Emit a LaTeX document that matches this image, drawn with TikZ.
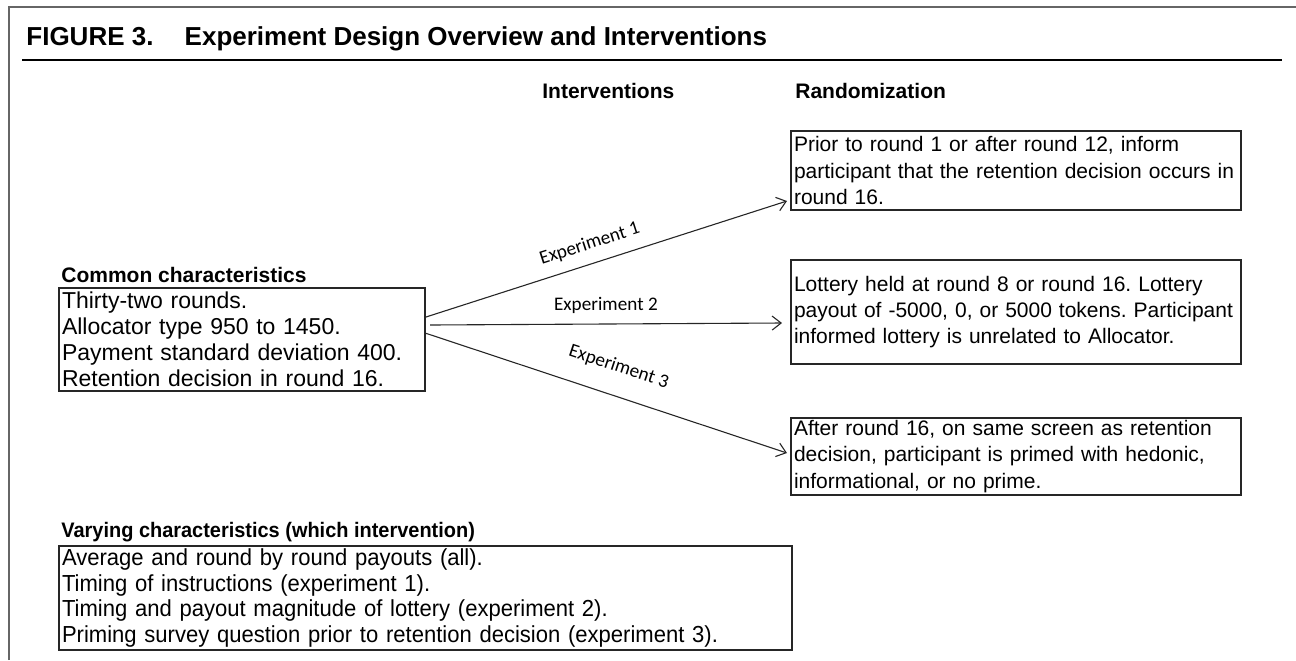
\documentclass[tikz,border=0pt]{standalone}
\usepackage{fontspec}
\setmainfont{Liberation Sans}
\newfontfamily\labelfont{Carlito}
\newfontfamily\narrowfont[FakeStretch=0.95]{Liberation Sans}
\usetikzlibrary{arrows.meta}
\frenchspacing

\begin{document}
\begin{tikzpicture}[x=0.5pt, y=-0.5pt,
        box/.style={draw=black!85, line width=1pt, inner xsep=1.5pt, inner ysep=0pt,
            align=left, anchor=north west, font=\fontsize{10.5}{13.2}\selectfont},
        head/.style={font=\bfseries\fontsize{10.5}{13}\selectfont, inner sep=0pt, anchor=base west},
        arr/.style={draw=black!85, line width=0.55pt, -{Straight Barb[length=4.5pt,width=7pt]}},
        exp/.style={font=\labelfont\fontsize{9.6}{11}\selectfont, inner sep=0pt, sloped}]
        \useasboundingbox (0,0) rectangle (1296,660);

        % Frame and title
        \draw[black!60, line width=1pt] (9,660) -- (9,7) -- (1296,7);
        \node[anchor=base west, inner sep=0pt, font=\bfseries\fontsize{13}{15}\selectfont] (title) at (26,45)
            {FIGURE 3.\hspace{1.2em}Experiment Design Overview and Interventions};
        \draw[line width=1pt] (22,60) -- (1282,60);

        % Column headings
        \node[head] (intv) at (542,98) {Interventions};
        \node[head] (rand) at (795,98) {Randomization};

        % Common characteristics
        \node[head] (commonlbl) at (61,282) {Common characteristics};
        \node[box, font=\fontsize{11.5}{13}\selectfont, minimum width=183pt, minimum height=51.5pt,
            text width=180pt] (common) at (58,287)
            {Thirty-two rounds.\\ Allocator type 950 to 1450.\\ Payment standard deviation 400.\\ Retention decision in round 16.};

        % Randomization boxes
        \node[box, minimum width=225pt, minimum height=39.5pt, text width=222pt] (rand1) at (790,130)
            {Prior to round 1 or after round 12, inform\\ participant that the retention decision occurs in\\ round 16.};
        \node[box, minimum width=225pt, minimum height=52pt, text width=222pt] (rand2) at (790,259)
            {Lottery held at round 8 or round 16. Lottery\\ payout of -5000, 0, or 5000 tokens. Participant\\ informed lottery is unrelated to Allocator.};
        \node[box, minimum width=225pt, minimum height=38.5pt, text width=222pt] (rand3) at (790,417)
            {After round 16, on same screen as retention\\ decision, participant is primed with hedonic,\\ informational, or no prime.};

        % Varying characteristics
        \node[head] (varylbl) at (61,537) {\narrowfont\bfseries Varying characteristics (which intervention)};
        \node[box, font=\narrowfont\fontsize{11.6}{12.85}\selectfont, minimum width=366.5pt, minimum height=52pt,
            text width=363.5pt] (vary) at (58,545)
            {Average and round by round payouts (all).\\ Timing of instructions (experiment 1).\\
             Timing and payout magnitude of lottery (experiment 2).\\ Priming survey question prior to retention decision (experiment 3).};

        % Interventions
        \draw[arr] ([yshift=11.25pt]common.east) -- node[exp, pos=0.47, above=5.4pt] {Experiment 1}
            ([xshift=-1.5pt, yshift=5pt]rand1.south west);
        \draw[arr] ([xshift=2pt, yshift=7.25pt]common.east) -- node[exp, pos=0.5, above=5pt] {Experiment 2}
            ([xshift=-4pt, yshift=-5.5pt]rand2.west);
        \draw[arr] ([xshift=-0.5pt, yshift=3.25pt]common.east) -- node[exp, pos=0.51, above=10pt] {Experiment 3}
            ([xshift=-1.5pt, yshift=1.75pt]rand3.west);
    \end{tikzpicture}
\end{document}
